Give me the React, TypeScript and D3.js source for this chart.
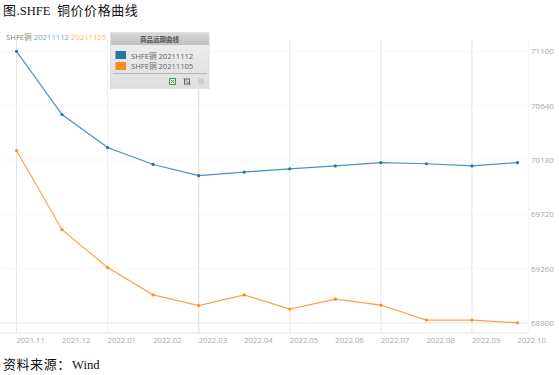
import React from "react";
import * as d3 from "d3";

const months = ["2021.11","2021.12","2022.01","2022.02","2022.03","2022.04","2022.05","2022.06","2022.07","2022.08","2022.09","2022.10"];
const blueValues = [71100,70565,70285,70142,70047,70078,70105,70130,70158,70148,70130,70158];
const orangeValues = [70260,69590,69270,69038,68948,69038,68918,69002,68952,68825,68825,68802];
const yTicks = [68800,69260,69720,70180,70640,71100];
const legendNames = ["SHFE铜 20211112","SHFE铜 20211105"];
const BLUE = "#1f77a4";
const ORANGE = "#fd8b1a";
const sans = "'Open Sans','Noto Sans CJK SC',sans-serif";
const serif = "'Liberation Serif','Noto Sans CJK SC',serif";

export default function App() {
  const x = d3.scalePoint<string>().domain(months).range([16.5, 517.5]);
  const y = d3.scaleLinear().domain([68800, 71100]).range([323, 51.3]);
  const line = d3.line<number>().x((_, i) => x(months[i])!).y(d => y(d));
  return (
    <svg width={559} height={375} style={{ position: "absolute", left: 0, top: 0, background: "#fff" }}>
      <defs>
        <linearGradient id="hdr" x1="0" y1="0" x2="0" y2="1">
          <stop offset="0" stopColor="#d9d9d9" />
          <stop offset="1" stopColor="#bdbdbd" />
        </linearGradient>
        <linearGradient id="body" x1="0" y1="0" x2="0" y2="1">
          <stop offset="0" stopColor="#f0f0f0" />
          <stop offset="1" stopColor="#dedede" />
        </linearGradient>
      </defs>
      <text x={3} y={15} fontFamily={serif} fontSize={13} fill="#111">图</text>
      <text x={16.5} y={15} fontFamily={serif} fontSize={12.6} fill="#111">.SHFE</text>
      <text x={57} y={15} fontFamily={serif} fontSize={13} letterSpacing={0.55} fill="#111">铜价价格曲线</text>

      {yTicks.map(t => (
        <line key={t} x1={1} x2={528} y1={y(t)} y2={y(t)} stroke={t === 68800 ? "#eeeeee" : "#f7f7f7"} strokeWidth={t === 68800 ? 1.5 : 1} />
      ))}
      {months.filter((_, i) => i % 2 === 0).map((m, i) => (
        <line key={m} x1={x(m)!} x2={x(m)!} y1={40} y2={333} stroke={i === 0 || i === 2 ? "#e6e6e6" : "#efefef"} strokeWidth={i < 2 ? 1 : 1.5} />
      ))}
      <line x1={528.5} x2={528.5} y1={40} y2={333} stroke="#f5f5f5" />
      <line x1={1} x2={528} y1={333} y2={333} stroke="#e2e2e2" />

      <path d={line(blueValues)!} fill="none" stroke={BLUE} strokeOpacity={0.8} strokeWidth={1.2} />
      <path d={line(orangeValues)!} fill="none" stroke={ORANGE} strokeOpacity={0.8} strokeWidth={1.2} />
      {blueValues.map((v, i) => <circle key={i} cx={x(months[i])!} cy={y(v)} r={1.6} fill={BLUE} />)}
      {orangeValues.map((v, i) => <circle key={i} cx={x(months[i])!} cy={y(v)} r={1.6} fill={ORANGE} />)}

      {months.map(m => (
        <text key={m} x={x(m)!} y={342.5} fontFamily={sans} fontSize={7.7} fill="#a8a8a8">{m}</text>
      ))}
      {yTicks.map(t => (
        <text key={t} x={531} y={y(t) + 3} fontFamily={sans} fontSize={8} fill="#a8a8a8">{t}</text>
      ))}

      <text x={6} y={39.5} fontFamily={sans} fontSize={7.7}>
        <tspan fill="#8a7f70">SHFE铜 </tspan>
        <tspan fill="#6ea6cb">20211112 </tspan>
        <tspan fill="#fdb46c">20211105</tspan>
      </text>

      <rect x={110.5} y={32.5} width={98.5} height={56} fill="url(#body)" stroke="#e0e0e0" />
      <rect x={111} y={33} width={98} height={12} fill="url(#hdr)" />
      <text x={159.5} y={41.5} textAnchor="middle" fontFamily={sans} fontSize={6.5} fontWeight={700} fill="#555">商品远期曲线</text>
      <rect x={115.5} y={51} width={10.5} height={8} fill={BLUE} />
      <rect x={115.5} y={62} width={10.5} height={8} fill={ORANGE} />
      {legendNames.map((n, i) => (
        <text key={n} x={131} y={58.5 + i * 10.7} fontFamily={sans} fontSize={7.6} fill="#666">{n}</text>
      ))}
      <line x1={113} x2={207} y1={73.5} y2={73.5} stroke="#b5b5b5" />
      <rect x={169.5} y={78.5} width={6} height={6} fill="#e0ece0" stroke="#4a9a5e" />
      <path d="M171 80l3 3M174 80l-3 3" stroke="#3a7a4a" strokeWidth={0.8} />
      <rect x={184.5} y={79} width={5} height={5} fill="none" stroke="#666" strokeWidth={1} />
      <path d="M183.5 78l7 7" stroke="#666" strokeWidth={0.8} />
      <rect x={198} y={78.5} width={6} height={6} fill="#d0d0d0" />

      <text x={3} y={369} fontFamily={serif} fontSize={13} letterSpacing={0.55} fill="#111">资料来源：</text>
      <text x={72} y={369} fontFamily={serif} fontSize={12.6} fill="#111">Wind</text>
    </svg>
  );
}
